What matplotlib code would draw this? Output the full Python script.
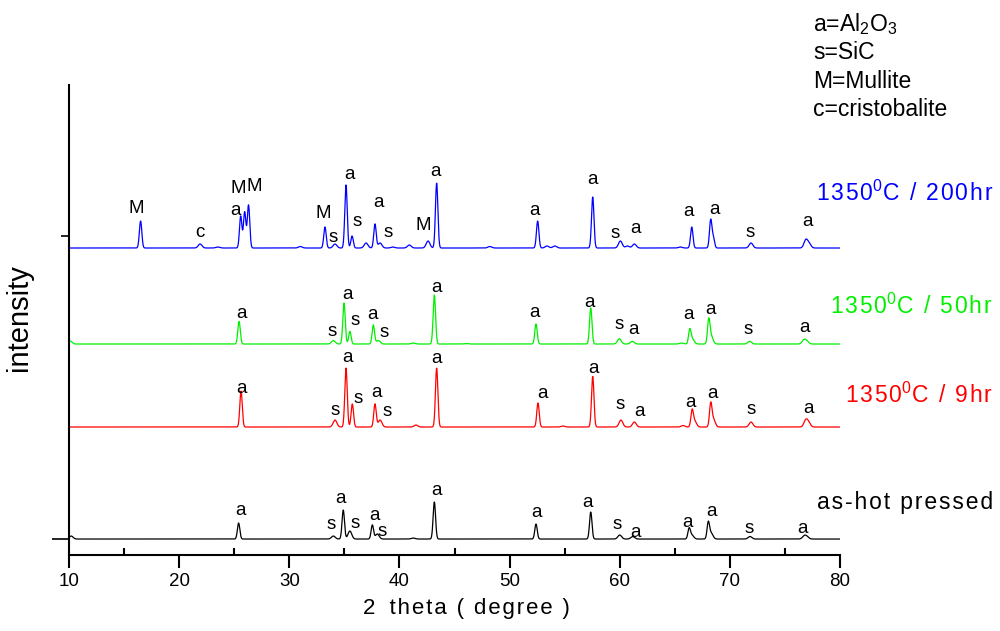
import numpy as np
import matplotlib
matplotlib.use("Agg")
import matplotlib.pyplot as plt

plt.rcParams['font.family'] = ['Liberation Sans', 'DejaVu Sans']
plt.rcParams['mathtext.default'] = 'regular'

# --- peak lists (2theta, height in px above baseline) ---
blue_pos = [16.5, 21.9, 23.5, 25.59, 25.95, 26.3, 31.0, 33.24, 34.15, 35.15, 35.7, 36.97, 37.78,
            38.24, 39.4, 40.9, 42.6, 43.38, 48.2, 52.55, 53.4, 54.1, 57.55, 60.06, 60.7, 61.33,
            65.5, 66.54, 68.26, 68.5, 71.92, 76.9, 77.2]
blue_h = [27, 4, 1, 32, 36, 43, 1.5, 21, 4, 63, 12, 5, 24,
          5, 1, 3, 7, 65, 1.5, 27, 2, 2, 51, 7, 2, 4,
          1, 21, 28, 10, 5, 8, 4]

green_pos = [10.1, 25.44, 34.0, 34.97, 35.5, 37.63, 38.08, 41.26, 43.17, 46.05, 52.4, 57.37,
             59.97, 61.15, 65.6, 66.36, 66.6, 68.08, 68.3, 71.8, 76.73, 77.0]
green_h = [3, 22.6, 3.5, 41, 12.6, 19, 3.6, 1, 49, 0.5, 20, 36,
           5.3, 2.7, 1, 13.6, 5, 22.6, 8, 2.7, 4, 2.5]

red_pos = [25.62, 34.15, 35.15, 35.72, 37.78, 38.24, 41.5, 43.38, 52.58, 54.85, 57.55, 60.11,
           61.33, 65.75, 66.57, 66.8, 68.26, 68.5, 71.92, 76.89, 77.15]
red_h = [36, 7, 59, 23, 23, 7, 2, 59, 24, 1, 50.6, 7,
         5, 1.5, 15.6, 6, 22, 8, 5, 6.6, 4]

black_pos = [10.2, 25.4, 34.0, 34.9, 35.5, 37.54, 37.99, 41.26, 43.17, 52.4, 57.37, 60.0,
             61.18, 66.3, 66.55, 68.04, 68.3, 71.83, 76.76, 77.0]
black_h = [3, 16, 3, 29, 8, 14, 5, 1, 37, 15, 27, 4,
           2.5, 10, 4, 16, 6, 2.5, 3, 2]

# baselines (px above the x axis)
offsets = {'black': 16, 'red': 128, 'green': 211, 'blue': 307}

# phase labels: (2theta, height above baseline, letter)
blue_labels = [(16.08, 40, 'M'), (21.89, 16, 'c'), (25.16, 38, 'a'), (25.4, 60, 'M'),
               (26.8, 62, 'M'), (33.06, 35, 'M'), (33.97, 11, 's'), (35.51, 74, 'a'),
               (36.15, 27, 's'), (38.06, 46, 'a'), (38.96, 16, 's'), (42.14, 23, 'M'),
               (43.23, 77, 'a'), (52.22, 38, 'a'), (57.49, 69, 'a'), (59.57, 15, 's'),
               (61.39, 20, 'a'), (66.29, 37, 'a'), (68.65, 39, 'a'), (71.83, 16, 's'),
               (77.01, 27, 'a')]
green_labels = [(25.62, 31, 'a'), (33.88, 13, 's'), (35.24, 50, 'a'), (35.97, 24, 's'),
                (37.6, 30, 'a'), (38.6, 12, 's'), (43.41, 57, 'a'), (52.22, 32, 'a'),
                (57.3, 42, 'a'), (59.94, 20, 's'), (61.21, 15, 'a'), (66.29, 30, 'a'),
                (68.2, 35, 'a'), (71.65, 15, 's'), (76.82, 17, 'a')]
red_labels = [(25.62, 39, 'a'), (34.15, 17, 's'), (35.24, 70, 'a'), (36.24, 29, 's'),
              (37.96, 35, 'a'), (38.87, 16, 's'), (43.41, 69, 'a'), (52.95, 34, 'a'),
              (57.58, 59, 'a'), (60.03, 23, 's'), (61.84, 16, 'a'), (66.47, 25, 'a'),
              (68.38, 34, 'a'), (71.92, 18, 's'), (77.1, 19, 'a')]
black_labels = [(25.53, 29, 'a'), (33.79, 15, 's'), (34.61, 41, 'a'), (35.97, 16, 's'),
                (37.78, 24, 'a'), (38.42, 8, 's'), (43.41, 49, 'a'), (52.49, 27, 'a'),
                (57.03, 37, 'a'), (59.75, 15, 's'), (61.39, 7, 'a'), (66.11, 17, 'a'),
                (68.29, 28, 'a'), (71.74, 11, 's'), (76.55, 11, 'a')]

HS = '\u200a'  # hair space, mimics the wide letter spacing of the original


def spaced(s):
    return HS.join(s)


series = [
    ('black', '#000000', black_pos, black_h, black_labels, spaced('as-hot pressed'), 503),
    ('red', '#ff0000', red_pos, red_h, red_labels,
     spaced('1350') + '$^0$' + spaced('C / 9hr'), 395),
    ('green', '#00f000', green_pos, green_h, green_labels,
     spaced('1350') + '$^0$' + spaced('C / 50hr'), 306),
    ('blue', '#0000ff', blue_pos, blue_h, blue_labels,
     spaced('1350') + '$^0$' + spaced('C / 200hr'), 193),
]


def profile(x, pos, h):
    y = np.zeros_like(x)
    for p, a in zip(pos, h):
        w = 0.26 if a > 8 else 0.4
        y += a * np.exp(-4 * np.log(2) * ((x - p) / w) ** 2)
    return y


fig = plt.figure(figsize=(10, 6.31), dpi=100)
ax = fig.add_axes([0.069, 0.1204, 0.771, 0.7449])

tt = np.linspace(10, 80, 3500)
for key, col, pos, h, labels, name, ypx in series:
    base = offsets[key]
    ax.plot(tt, base + profile(tt, pos, h), color=col, lw=0.9)
    for lx, ly, s in labels:
        ax.text(lx, base + ly, s, ha='center', va='center', fontsize=13.5)
    fig.text(0.993, 1 - ypx / 631, name, color=col, ha='right', va='center', fontsize=16.5)

ax.set_xlim(10, 80)
ax.set_ylim(0, 470)
for s in ['top', 'right']:
    ax.spines[s].set_visible(False)
ax.spines['left'].set_linewidth(1.5)
ax.spines['bottom'].set_linewidth(1.5)

ax.set_xticks(np.arange(10, 81, 10))
ax.set_xticks(np.arange(15, 80, 10), minor=True)
ax.tick_params(axis='x', which='major', direction='out', length=9, width=1.5, labelsize=13.5, pad=4)
ax.tick_params(axis='x', which='minor', direction='in', length=5, width=1.5)
ax.set_yticks([16])
ax.set_yticks([319], minor=True)
ax.tick_params(axis='y', which='major', direction='out', length=12, width=1.2, labelleft=False)
ax.tick_params(axis='y', which='minor', direction='out', length=6, width=1.2)

ax.set_xlabel('2  ' + HS + spaced('theta') + HS + ' ' + HS + spaced('( degree )'), fontsize=16)
ax.xaxis.set_label_coords(0.515, -0.092)
ax.set_ylabel('intensity', fontsize=21)
ax.yaxis.set_label_coords(-0.047, 0.505)

legend_lines = ['a=Al$_2$O$_3$', 's=SiC', 'M=Mullite', 'c=cristobalite']
for i, t in enumerate(legend_lines):
    fig.text(0.813, 1 - (24 + 28.5 * i) / 631, t, ha='left', va='center', fontsize=16.5)

fig.savefig('out.png', dpi=100)
